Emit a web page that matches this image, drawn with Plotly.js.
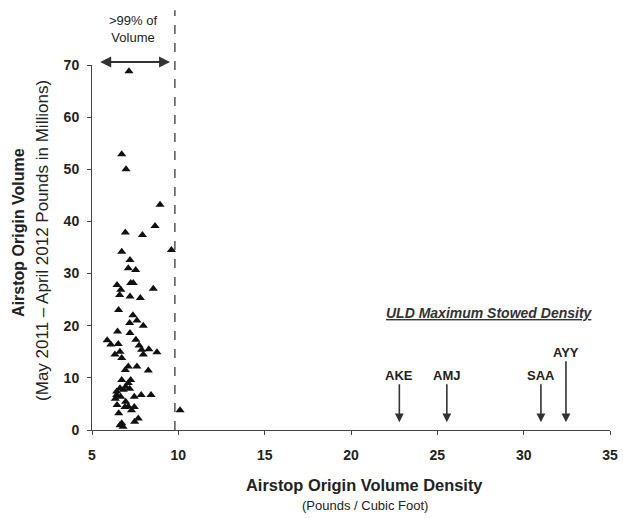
<!DOCTYPE html>
<html>
<head>
<meta charset="utf-8">
<script src="https://cdn.plot.ly/plotly-3.0.1.min.js"></script>
<style>html,body{margin:0;padding:0;background:#fff;}#chart{width:623px;height:518px;}</style>
</head>
<body>
<div id="chart"></div>
<script>
// Airstop density (lb / cu ft)
const densityX = [7.14,6.72,6.97,8.94,8.65,6.93,7.92,9.60,6.72,7.20,7.10,7.53,6.45,7.24,7.39,8.55,6.67,6.60,7.20,7.80,
  6.54,7.37,7.60,7.18,7.97,6.48,7.20,7.54,5.88,6.09,6.52,7.73,6.62,7.87,8.29,8.76,6.33,7.97,6.72,7.10,
  7.60,6.93,8.26,6.72,7.24,7.10,6.95,7.18,6.62,6.43,6.81,6.43,7.85,8.42,6.66,7.45,6.35,6.95,6.45,7.10,
  7.45,6.91,7.29,6.55,10.1,7.68,7.47,6.72,6.62,6.80];
// Airstop volume (million lb)
const volumeY = [68.8,52.9,50.0,43.2,39.1,37.9,37.4,34.5,34.2,32.6,31.0,30.7,27.8,28.2,28.2,27.1,26.9,25.9,25.6,25.3,
  23.0,22.0,21.0,20.5,20.0,18.9,18.6,17.3,17.2,16.4,16.5,16.2,15.0,15.4,15.5,14.9,14.5,14.5,13.8,12.2,
  12.2,11.5,11.4,9.6,9.6,9.0,8.3,7.9,8.0,7.4,7.7,6.7,6.7,6.7,6.4,6.4,6.0,5.4,4.8,4.5,
  4.4,4.4,3.8,3.2,3.8,2.2,1.6,1.3,0.9,0.6];
// ULD maximum stowed densities
const uldNames = ["AKE","AMJ","SAA","AYY"];
const uldDensity = [22.8,25.55,31.0,32.45];
const uldLabelOffset = [-47,-47,-47,-70];
const xTicks = [5,10,15,20,25,30,35];
const yTicks = [0,10,20,30,40,50,60,70];
const volumeCutoff = 9.8;

const FONT = "Liberation Sans, Arial, sans-serif";
const TXT = "#222";

const annotations = uldNames.map((n,i)=>({
  x: uldDensity[i], y: 1.5, xref:'x', yref:'y',
  text: '<b>'+n+'</b>', showarrow:true, arrowhead:2, arrowsize:1.1, arrowwidth:1.6,
  arrowcolor:'#333', ax:0, ay:uldLabelOffset[i],
  font:{family:FONT,size:13,color:TXT}
}));

annotations.push(
  {x:9.52, y:1.008, xref:'x', yref:'paper', axref:'x', ayref:'paper', ax:5.3, ay:1.008,
   text:' ', showarrow:true, arrowhead:2, startarrowhead:2, arrowside:'end+start',
   arrowsize:1.1, arrowwidth:2, arrowcolor:'#333'},
  {x:7.4, y:1.099, xref:'x', yref:'paper', xanchor:'center', yanchor:'middle',
   text:'>99% of<br>Volume', showarrow:false,
   font:{family:FONT,size:13,color:TXT}},
  {x:0.767, y:0.32, xref:'paper', yref:'paper', xanchor:'center', yanchor:'middle', showarrow:false,
   text:'<b><i><u>ULD Maximum Stowed Density</u></i></b>',
   font:{family:FONT,size:14,color:'#333'}},
  {x:19, y:0.54, xref:'paper', yref:'paper', xanchor:'center', yanchor:'middle', textangle:-90, showarrow:false,
   text:'<b>Airstop Origin Volume</b>', font:{family:FONT,size:16,color:TXT}},
  {x:43, y:0.518, xref:'paper', yref:'paper', xanchor:'center', yanchor:'middle', textangle:-90, showarrow:false,
   text:'(May 2011 – April 2012 Pounds in Millions)', font:{family:FONT,size:17,color:TXT}},
  {x:0.527, y:-0.152, xref:'paper', yref:'paper', xanchor:'center', yanchor:'middle', showarrow:false,
   text:'<b>Airstop Origin Volume Density</b>', font:{family:FONT,size:16.4,color:TXT}},
  {x:0.527, y:-0.208, xref:'paper', yref:'paper', xanchor:'center', yanchor:'middle', showarrow:false,
   text:'(Pounds / Cubic Foot)', font:{family:FONT,size:13,color:TXT}}
);
// convert the y-title x positions from pixels to paper coords
const L = 92, PW = 623 - 92 - 13;
annotations.forEach(a => { if (a.textangle === -90) a.x = (a.x - L) / PW; });

const trace = {
  x: densityX, y: volumeY, type:'scatter', mode:'markers',
  marker:{symbol:'triangle-up', size:8, color:'#111'}, hoverinfo:'x+y'
};

const layout = {
  width:623, height:518,
  margin:{l:92, r:13, t:65, b:88},
  paper_bgcolor:'#fff', plot_bgcolor:'#fff',
  showlegend:false,
  font:{family:FONT, color:TXT},
  xaxis:{range:[5,35], tickvals:xTicks, ticktext:xTicks.map(v=>'<b>'+v+'</b>'), showgrid:false, zeroline:false,
    showline:true, linecolor:'#444', linewidth:1, ticks:'outside', ticklen:4, tickcolor:'#444',
    tickfont:{family:FONT,size:14,color:TXT}, ticklabelstandoff:8},
  yaxis:{range:[0,70], tickvals:yTicks, ticktext:yTicks.map(v=>'<b>'+v+'</b>'), showgrid:false, zeroline:false,
    showline:true, linecolor:'#444', linewidth:1, ticks:'outside', ticklen:4, tickcolor:'#444',
    tickfont:{family:FONT,size:14,color:TXT}, ticklabelstandoff:5},
  shapes:[{type:'line', xref:'x', yref:'paper', x0:volumeCutoff, x1:volumeCutoff, y0:0, y1:1.15,
    line:{color:'#555', width:1.5, dash:'dash'}}],
  annotations: annotations
};

Plotly.newPlot('chart',[trace],layout,{displayModeBar:false, staticPlot:true});
</script>
</body>
</html>
